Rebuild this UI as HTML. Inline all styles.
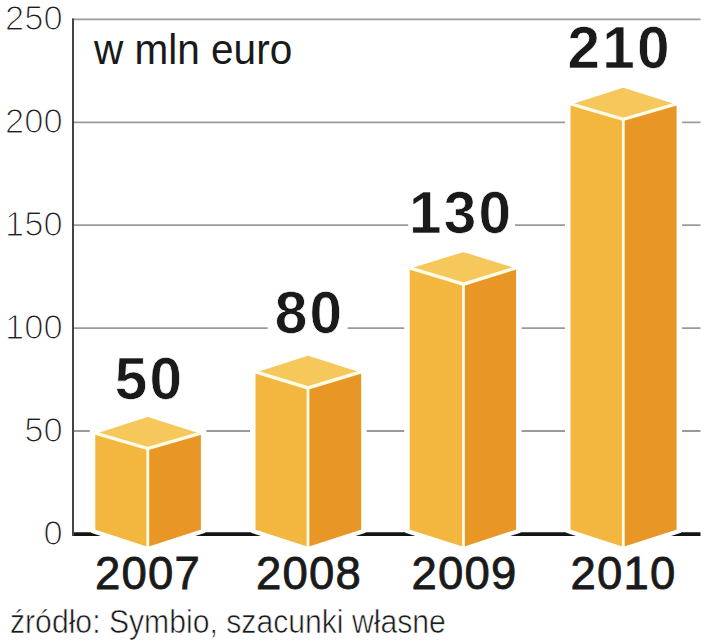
<!DOCTYPE html>
<html><head><meta charset="utf-8"><style>
html,body{margin:0;padding:0;background:#fff;width:713px;height:640px;overflow:hidden}
svg{display:block}
text{font-family:"Liberation Sans",sans-serif}
.yl{font-size:34.5px;fill:#1e1e1e;text-anchor:end;stroke:#fff;stroke-width:1.2px}
.vl{font-size:58.5px;font-weight:bold;fill:#1a1a1a;text-anchor:middle;letter-spacing:2.2px;stroke:#fff;stroke-width:0.7px}
.yr{font-size:45.5px;fill:#1a1a1a;text-anchor:middle;letter-spacing:1.2px;stroke:#1a1a1a;stroke-width:0.8px}
.unit{font-size:42px;fill:#1a1a1a}
.src{font-size:33px;fill:#1a1a1a;stroke:#fff;stroke-width:0.6px}
</style></head><body>
<svg width="713" height="640" viewBox="0 0 713 640">
<rect width="713" height="640" fill="#fff"/>
<line x1="72" y1="19.40" x2="700.5" y2="19.40" stroke="#9a9a9a" stroke-width="1.8"/>
<line x1="72" y1="122.30" x2="700.5" y2="122.30" stroke="#9a9a9a" stroke-width="1.8"/>
<line x1="72" y1="225.20" x2="700.5" y2="225.20" stroke="#9a9a9a" stroke-width="1.8"/>
<line x1="72" y1="328.10" x2="700.5" y2="328.10" stroke="#9a9a9a" stroke-width="1.8"/>
<line x1="72" y1="431.00" x2="700.5" y2="431.00" stroke="#9a9a9a" stroke-width="1.8"/>
<line x1="72" y1="534.2" x2="700.5" y2="534.2" stroke="#141414" stroke-width="3.8"/>
<line x1="73" y1="18.6" x2="73" y2="536.1" stroke="#444" stroke-width="2"/>
<polyline points="93.60,531.80 93.60,432.70 147.80,415.10 202.60,432.70 202.60,531.80" fill="#fff" stroke="#fff" stroke-width="7.6" stroke-linejoin="miter"/>
<polygon points="93.60,432.70 147.80,415.10 202.60,432.70 202.60,530.80 147.80,548.60 93.60,530.80" fill="#fff" stroke="#fff" stroke-width="5.4" stroke-linejoin="miter"/>
<polygon points="93.60,432.70 147.80,448.60 147.80,548.60 93.60,530.80" fill="#F3B63F"/>
<polygon points="147.80,448.60 202.60,432.70 202.60,530.80 147.80,548.60" fill="#E89727"/>
<polygon points="93.60,432.70 147.80,415.10 202.60,432.70 147.80,448.60" fill="#F6C85B"/>
<polyline points="93.60,432.70 147.80,448.60 202.60,432.70" fill="none" stroke="#FFFCE8" stroke-width="3.4" stroke-linejoin="miter"/>
<line x1="147.80" y1="448.60" x2="147.80" y2="550.60" stroke="#FFFCE8" stroke-width="2.8"/>
<polygon points="93.60,432.70 147.80,415.10 202.60,432.70 202.60,530.80 147.80,548.60 93.60,530.80" fill="none" stroke="#fff" stroke-width="3.4" stroke-linejoin="miter"/>
<polyline points="253.80,531.80 253.80,371.46 308.00,353.86 362.90,371.46 362.90,531.80" fill="#fff" stroke="#fff" stroke-width="7.6" stroke-linejoin="miter"/>
<polygon points="253.80,371.46 308.00,353.86 362.90,371.46 362.90,530.80 308.00,548.60 253.80,530.80" fill="#fff" stroke="#fff" stroke-width="5.4" stroke-linejoin="miter"/>
<polygon points="253.80,371.46 308.00,387.86 308.00,548.60 253.80,530.80" fill="#F3B63F"/>
<polygon points="308.00,387.86 362.90,371.46 362.90,530.80 308.00,548.60" fill="#E89727"/>
<polygon points="253.80,371.46 308.00,353.86 362.90,371.46 308.00,387.86" fill="#F6C85B"/>
<polyline points="253.80,371.46 308.00,387.86 362.90,371.46" fill="none" stroke="#FFFCE8" stroke-width="3.4" stroke-linejoin="miter"/>
<line x1="308.00" y1="387.86" x2="308.00" y2="550.60" stroke="#FFFCE8" stroke-width="2.8"/>
<polygon points="253.80,371.46 308.00,353.86 362.90,371.46 362.90,530.80 308.00,548.60 253.80,530.80" fill="none" stroke="#fff" stroke-width="3.4" stroke-linejoin="miter"/>
<polyline points="408.00,531.80 408.00,267.26 463.50,250.26 517.80,267.26 517.80,531.80" fill="#fff" stroke="#fff" stroke-width="7.6" stroke-linejoin="miter"/>
<polygon points="408.00,267.26 463.50,250.26 517.80,267.26 517.80,530.80 463.50,548.60 408.00,530.80" fill="#fff" stroke="#fff" stroke-width="5.4" stroke-linejoin="miter"/>
<polygon points="408.00,267.26 463.50,284.16 463.50,548.60 408.00,530.80" fill="#F3B63F"/>
<polygon points="463.50,284.16 517.80,267.26 517.80,530.80 463.50,548.60" fill="#E89727"/>
<polygon points="408.00,267.26 463.50,250.26 517.80,267.26 463.50,284.16" fill="#F6C85B"/>
<polyline points="408.00,267.26 463.50,284.16 517.80,267.26" fill="none" stroke="#FFFCE8" stroke-width="3.4" stroke-linejoin="miter"/>
<line x1="463.50" y1="284.16" x2="463.50" y2="550.60" stroke="#FFFCE8" stroke-width="2.8"/>
<polygon points="408.00,267.26 463.50,250.26 517.80,267.26 517.80,530.80 463.50,548.60 408.00,530.80" fill="none" stroke="#fff" stroke-width="3.4" stroke-linejoin="miter"/>
<polyline points="568.80,531.80 568.80,103.42 623.30,85.82 678.30,103.42 678.30,531.80" fill="#fff" stroke="#fff" stroke-width="7.6" stroke-linejoin="miter"/>
<polygon points="568.80,103.42 623.30,85.82 678.30,103.42 678.30,530.80 623.30,548.60 568.80,530.80" fill="#fff" stroke="#fff" stroke-width="5.4" stroke-linejoin="miter"/>
<polygon points="568.80,103.42 623.30,119.32 623.30,548.60 568.80,530.80" fill="#F3B63F"/>
<polygon points="623.30,119.32 678.30,103.42 678.30,530.80 623.30,548.60" fill="#E89727"/>
<polygon points="568.80,103.42 623.30,85.82 678.30,103.42 623.30,119.32" fill="#F6C85B"/>
<polyline points="568.80,103.42 623.30,119.32 678.30,103.42" fill="none" stroke="#FFFCE8" stroke-width="3.4" stroke-linejoin="miter"/>
<line x1="623.30" y1="119.32" x2="623.30" y2="550.60" stroke="#FFFCE8" stroke-width="2.8"/>
<polygon points="568.80,103.42 623.30,85.82 678.30,103.42 678.30,530.80 623.30,548.60 568.80,530.80" fill="none" stroke="#fff" stroke-width="3.4" stroke-linejoin="miter"/>
<text x="62.6" y="30.1" class="yl">250</text>
<text x="62.6" y="133.0" class="yl">200</text>
<text x="62.6" y="235.9" class="yl">150</text>
<text x="62.6" y="338.8" class="yl">100</text>
<text x="62.6" y="441.7" class="yl">50</text>
<text x="62.6" y="544.6" class="yl">0</text>
<rect x="108.0" y="353.1" width="81.0" height="52" fill="#fff"/>
<text x="149.4" y="399.1" class="vl">50</text>
<rect x="267.7" y="287.4" width="80.0" height="52" fill="#fff"/>
<text x="309.6" y="333.4" class="vl">80</text>
<rect x="408.2" y="187.3" width="106.7" height="52" fill="#fff"/>
<text x="461.2" y="233.3" class="vl">130</text>
<rect x="562.0" y="22.3" width="113.0" height="52" fill="#fff"/>
<text x="619.6" y="68.3" class="vl">210</text>
<text x="148.0" y="588.6" class="yr">2007</text>
<text x="309.0" y="588.6" class="yr">2008</text>
<text x="464.6" y="588.6" class="yr">2009</text>
<text x="623.4" y="588.6" class="yr">2010</text>
<text x="0" y="0" class="unit" transform="translate(94 63.7) scale(0.965 1)">w mln euro</text>
<text x="0" y="0" class="src" transform="translate(10 632.5) scale(0.914 1)">źródło: Symbio, szacunki własne</text>
</svg>
</body></html>
